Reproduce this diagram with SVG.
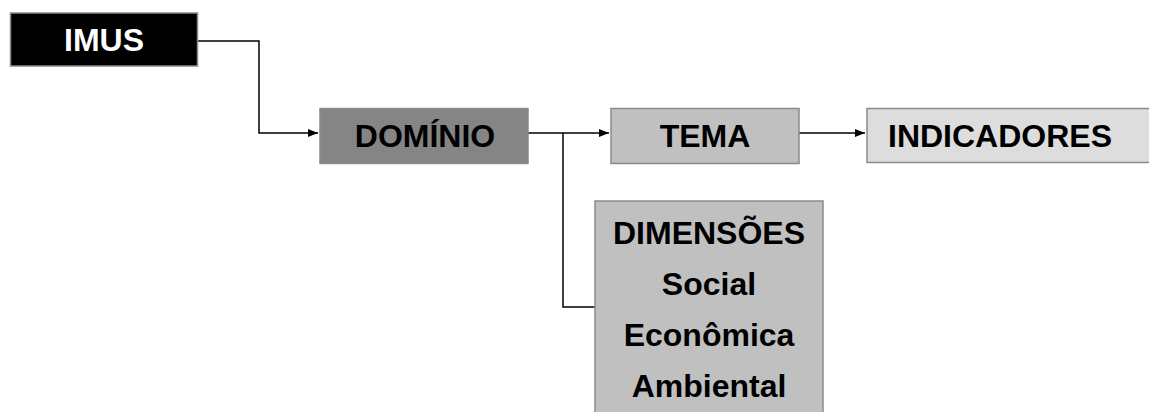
<svg xmlns="http://www.w3.org/2000/svg" width="1149" height="412" viewBox="0 0 1149 412">
<defs>
<marker id="arr" markerWidth="10" markerHeight="8" refX="10" refY="4" orient="auto" markerUnits="userSpaceOnUse">
<path d="M0,0 L10,4 L0,8 Z" fill="#000"/>
</marker>
<style>
.box{stroke:#8a8a8a;stroke-width:1.5}
.t{font-family:"Liberation Sans",Arial,sans-serif;font-weight:bold;font-size:32px;text-anchor:middle;fill:#000}
.c{fill:none;stroke:#000;stroke-width:1.5}
</style>
</defs>
<rect width="1149" height="412" fill="#fff"/>
<g id="connectors">
<polyline class="c" points="197,41 259,41 259,133 318,133" marker-end="url(#arr)"/>
<polyline class="c" points="528,133 609,133" marker-end="url(#arr)"/>
<polyline class="c" points="799,133 865,133" marker-end="url(#arr)"/>
<polyline class="c" points="563,133 563,307 595,307"/>
</g>
<g id="imus">
<rect class="box" x="10.5" y="13" width="187" height="53" fill="#000"/>
<text class="t" x="104" y="50.5" fill="#fff" style="fill:#fff">IMUS</text>
</g>
<g id="dominio">
<rect class="box" x="320" y="108.5" width="208" height="55" fill="#858585"/>
<text class="t" x="425" y="147">DOMÍNIO</text>
</g>
<g id="tema">
<rect class="box" x="611" y="108.5" width="188" height="55" fill="#c0c0c0"/>
<text class="t" x="705" y="147">TEMA</text>
</g>
<g id="indicadores">
<rect class="box" x="867" y="108.5" width="300" height="54" fill="#dddddd"/>
<text class="t" x="1000" y="147">INDICADORES</text>
</g>
<g id="dimensoes">
<rect class="box" x="595" y="201" width="228" height="230" fill="#c0c0c0"/>
<text class="t" x="709" y="244">DIMENSÕES</text>
<text class="t" x="709" y="295">Social</text>
<text class="t" x="709" y="346">Econômica</text>
<text class="t" x="709" y="397">Ambiental</text>
</g>
</svg>
